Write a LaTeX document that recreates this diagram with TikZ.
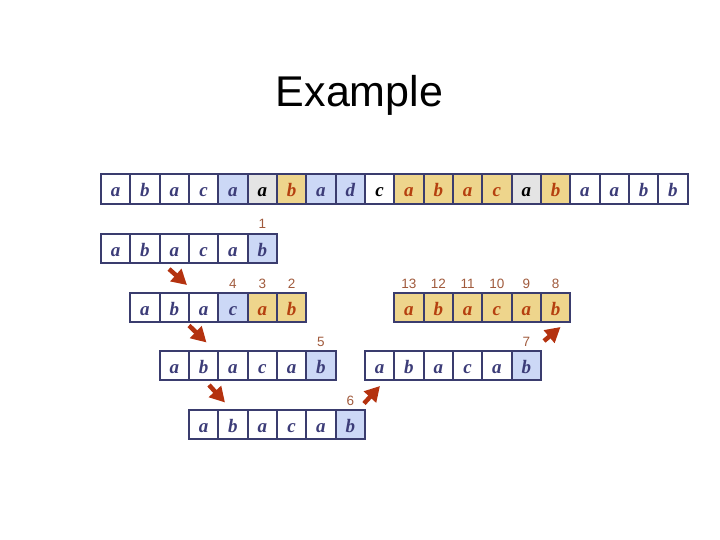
\documentclass[tikz,border=0pt]{standalone}
\usepackage{fontspec}
\setmainfont{Liberation Serif}
\newfontfamily\sansfam{Liberation Sans}
\usepackage{tikz}
\usetikzlibrary{arrows.meta, positioning}

\definecolor{cellline}{RGB}{58,60,110}
\definecolor{letterblue}{RGB}{60,60,120}
\definecolor{letterred}{RGB}{181,64,15}
\definecolor{fillblue}{RGB}{204,216,246}
\definecolor{fillgrey}{RGB}{228,228,228}
\definecolor{fillyellow}{RGB}{238,213,140}
\definecolor{numbrown}{RGB}{160,90,60}
\definecolor{arrowred}{RGB}{180,50,15}

\begin{document}
\begin{tikzpicture}[
    x=1pt, y=-1pt,
    cell/.style={draw=cellline, line width=2pt, minimum width=29.33pt,
      minimum height=29.5pt, inner sep=0pt, text height=15.4pt, text depth=0pt,
      font=\fontsize{19}{19}\selectfont\bfseries\itshape},
    cwhite/.style={fill=white, text=letterblue},
    cwhitek/.style={fill=white, text=black},
    cblue/.style={fill=fillblue, text=letterblue},
    cgrey/.style={fill=fillgrey, text=black},
    cyell/.style={fill=fillyellow, text=letterred},
    num/.style={text=numbrown, inner sep=0pt, font=\sansfam\fontsize{13.5}{13.5}\selectfont},
    arr/.style={draw=arrowred, line width=4.5pt, -{Triangle[length=15pt, width=16pt]}}
  ]
  \useasboundingbox (0,0) rectangle (720,540);
  \node[font=\sansfam\fontsize{43}{43}\selectfont, anchor=base] (title) at (359.5,107) {Example};

  % text row
  \foreach \s/\l [count=\i from 0] in {cwhite/a, cwhite/b, cwhite/a, cwhite/c, cblue/a,
      cgrey/a, cyell/b, cblue/a, cblue/d, cwhitek/c, cyell/a, cyell/b, cyell/a, cyell/c,
      cgrey/a, cyell/b, cwhite/a, cwhite/a, cwhite/b, cwhite/b}
    \node[cell, \s] (top\i) at ({101+(\i+0.5)*29.33},189.2) {\l};

  % pattern rows
  \foreach \s/\l [count=\i from 0] in {cwhite/a, cwhite/b, cwhite/a, cwhite/c, cwhite/a, cblue/b}
    \node[cell, \s] (rowb\i) at ({101+(\i+0.5)*29.33},248.3) {\l};
  \foreach \s/\l [count=\i from 0] in {cwhite/a, cwhite/b, cwhite/a, cblue/c, cyell/a, cyell/b}
    \node[cell, \s] (rowcl\i) at ({101+(\i+1.5)*29.33},307.6) {\l};
  \foreach \s/\l [count=\i from 0] in {cyell/a, cyell/b, cyell/a, cyell/c, cyell/a, cyell/b}
    \node[cell, \s] (rowcr\i) at ({101+(\i+10.5)*29.33},307.6) {\l};
  \foreach \s/\l [count=\i from 0] in {cwhite/a, cwhite/b, cwhite/a, cwhite/c, cwhite/a, cblue/b}
    \node[cell, \s] (rowdl\i) at ({101+(\i+2.5)*29.33},365.7) {\l};
  \foreach \s/\l [count=\i from 0] in {cwhite/a, cwhite/b, cwhite/a, cwhite/c, cwhite/a, cblue/b}
    \node[cell, \s] (rowdr\i) at ({101+(\i+9.5)*29.33},365.7) {\l};
  \foreach \s/\l [count=\i from 0] in {cwhite/a, cwhite/b, cwhite/a, cwhite/c, cwhite/a, cblue/b}
    \node[cell, \s] (rowe\i) at ({101+(\i+3.5)*29.33},424.7) {\l};

  % step numbers
  \node[num, above=3.5pt of rowb5] (n1) {1};
  \node[num, above=3.5pt of rowcl5] (n2) {2};
  \node[num, above=3.5pt of rowcl4] (n3) {3};
  \node[num, above=3.5pt of rowcl3] (n4) {4};
  \node[num, above=3.5pt of rowdl5] (n5) {5};
  \node[num, above=3.5pt of rowe5] (n6) {6};
  \node[num, above=3.5pt of rowdr5] (n7) {7};
  \node[num, above=3.5pt of rowcr5] (n8) {8};
  \node[num, above=3.5pt of rowcr4] (n9) {9};
  \node[num, above=3.5pt of rowcr3] (n10) {10};
  \node[num, above=3.5pt of rowcr2] (n11) {11};
  \node[num, above=3.5pt of rowcr1] (n12) {12};
  \node[num, above=3.5pt of rowcr0] (n13) {13};

  % shift arrows
  \coordinate (a1s) at (169,269);
  \coordinate (a1e) at (187,285);
  \coordinate (a2s) at (189,325.5);
  \coordinate (a2e) at (206.5,342.5);
  \coordinate (a3s) at (209,385);
  \coordinate (a3e) at (225,402.5);
  \coordinate (a4s) at (364,403.5);
  \coordinate (a4e) at (380,386);
  \coordinate (a5s) at (544,341);
  \coordinate (a5e) at (560.5,327);
  \draw[arr] (a1s) -- (a1e);
  \draw[arr] (a2s) -- (a2e);
  \draw[arr] (a3s) -- (a3e);
  \draw[arr] (a4s) -- (a4e);
  \draw[arr] (a5s) -- (a5e);
\end{tikzpicture}
\end{document}
